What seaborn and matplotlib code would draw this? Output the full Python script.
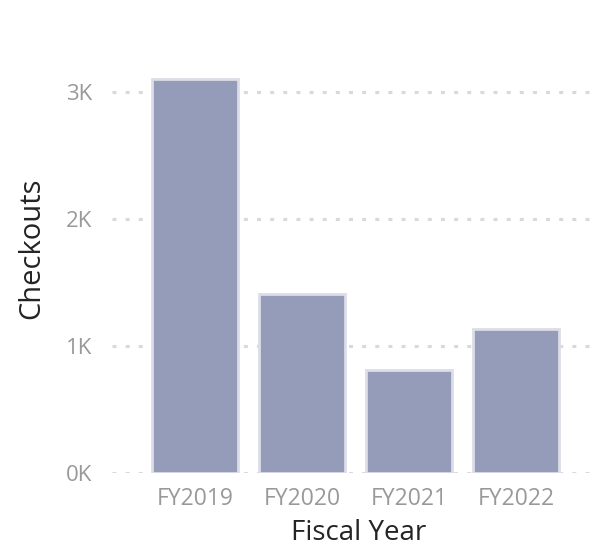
import matplotlib
matplotlib.use("Agg")
import matplotlib.pyplot as plt
import seaborn as sns
import pandas as pd
from matplotlib.ticker import FuncFormatter

# Data
years = ["FY2019", "FY2020", "FY2021", "FY2022"]
checkouts = [3100, 1410, 810, 1130]
y_ticks = [0, 1000, 2000, 3000]

df = pd.DataFrame({"Fiscal Year": years, "Checkouts": checkouts})

sns.set_theme(style="white")
plt.rcParams["font.family"] = ["Open Sans", "DejaVu Sans"]

fig = plt.figure(figsize=(5.94, 5.49), dpi=100)
ax = fig.add_axes([0.1886, 0.1384, 0.8044, 0.7403])

sns.barplot(data=df, x="Fiscal Year", y="Checkouts", color="#949cb9",
            saturation=1, width=0.8, edgecolor="#dcdde8", linewidth=2.0,
            ax=ax, zorder=3)

ax.set_xlim(-0.776, 3.69)
ax.set_ylim(0, 3200)
ax.set_yticks(y_ticks)
ax.yaxis.set_major_formatter(FuncFormatter(lambda v, p: f"{v/1000:.0f}K"))

# dotted gridlines, ~13px period
ax.grid(axis="y", linestyle=(0, (1.3, 3.0)), color="#d9d9d9", linewidth=2.2, zorder=0)
ax.grid(axis="x", visible=False)
for s in ax.spines.values():
    s.set_visible(False)

ax.tick_params(axis="y", length=0, pad=14, labelsize=16, labelcolor="#999999")
ax.tick_params(axis="x", length=0, pad=10, labelsize=16.5, labelcolor="#999999")

ax.set_xlabel("Fiscal Year", fontsize=20, color="#252423", va="center")
ax.set_ylabel("Checkouts", fontsize=21, color="#252423", va="center")
ax.xaxis.set_label_coords(0.517, -0.148)
ax.yaxis.set_label_coords(-0.169, 0.552)

fig.savefig("out.png", dpi=100)
